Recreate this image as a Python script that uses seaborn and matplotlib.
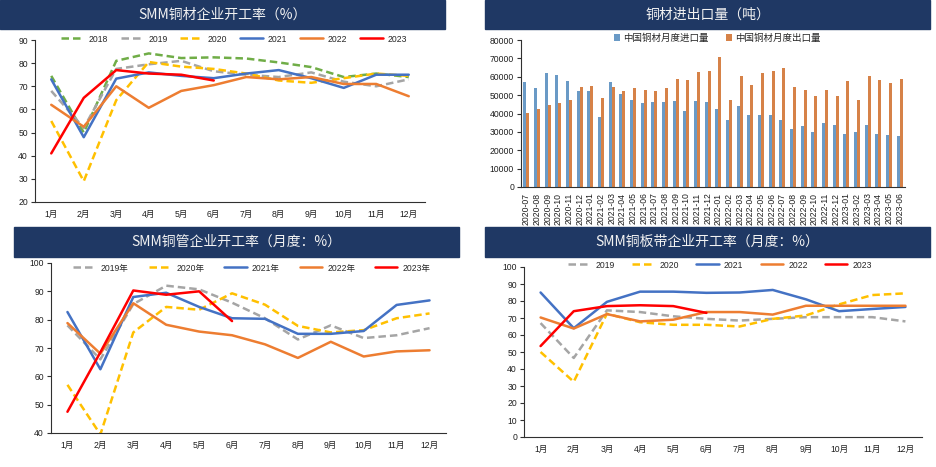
import numpy as np
import pandas as pd
import matplotlib
matplotlib.use('Agg')
import matplotlib.pyplot as plt
from matplotlib.patches import Rectangle
import seaborn as sns

# ---------------- dane ----------------
months = ['1月', '2月', '3月', '4月', '5月', '6月', '7月', '8月', '9月', '10月', '11月', '12月']

# SMM铜材企业开工率
cai_2018 = [74.5, 50, 81, 84.2, 82.2, 82.5, 82, 80.3, 78.3, 74, 75.5, 74]
cai_2019 = [68, 52, 77.5, 79.5, 81, 76.5, 75, 74, 76, 72, 70, 73]
cai_2020 = [55, 29, 64, 80.5, 78.5, 77.5, 75.5, 72.5, 71.5, 73.5, 75.5, 74.5]
cai_2021 = [73, 48, 73.3, 76, 74.5, 73.5, 75.5, 77, 73.5, 69.3, 75, 75]
cai_2022 = [62, 52.5, 70, 60.7, 68, 70.5, 74, 73, 74, 71, 71, 65.7]
cai_2023 = [41, 65, 77, 75.5, 75, 72.5]

# 铜材进出口量
trade_months = ['2020-07', '2020-08', '2020-09', '2020-10', '2020-11', '2020-12',
                '2021-01', '2021-02', '2021-03', '2021-04', '2021-05', '2021-06',
                '2021-07', '2021-08', '2021-09', '2021-10', '2021-11', '2021-12',
                '2022-01', '2022-02', '2022-03', '2022-04', '2022-05', '2022-06',
                '2022-07', '2022-08', '2022-09', '2022-10', '2022-11', '2022-12',
                '2023-01', '2023-02', '2023-03', '2023-04', '2023-05', '2023-06']
imports = [57000, 53800, 62200, 61000, 57800, 52500, 52000, 38300, 57000, 50500, 47500, 45500,
           46000, 46300, 46800, 41500, 46800, 46000, 42700, 36300, 44000, 39000, 39000, 39000,
           36700, 31800, 33000, 29800, 34600, 33900, 28700, 29800, 33900, 29000, 28200, 27500]
exports = [40200, 42700, 44800, 45500, 47200, 54200, 55000, 48500, 54500, 52500, 53700, 53000,
           52000, 54000, 58700, 58200, 62700, 63000, 71000, 47600, 60500, 55500, 61800, 63000,
           64800, 54600, 53000, 49700, 53000, 49300, 57800, 47300, 60200, 58300, 56600, 59000]

# SMM铜管企业开工率
guan_2019 = [78, 66, 85.5, 92, 90.7, 86, 80.5, 73, 78, 73.5, 74.5, 77]
guan_2020 = [57, 39.5, 75.5, 84.5, 83.5, 89.3, 85.3, 77.8, 75.5, 76.3, 80.5, 82.2]
guan_2021 = [82.7, 62.5, 88, 89.5, 84.5, 80.5, 80.3, 75, 75, 76, 85.2, 86.8]
guan_2022 = [78.8, 68, 85.8, 78.2, 75.8, 74.5, 71.3, 66.5, 72.2, 67, 68.8, 69.2]
guan_2023 = [47.5, 68.5, 90.3, 88.8, 90, 79.5]

# SMM铜板带企业开工率
ban_2019 = [67, 46.5, 74.5, 73.5, 71, 69.5, 68.5, 69.5, 70.5, 70.5, 70.5, 68]
ban_2020 = [50, 32.5, 72.5, 67.5, 66, 66, 65, 69.5, 71.5, 78, 83.5, 84.5]
ban_2021 = [85, 64, 79.5, 85.5, 85.5, 84.8, 85, 86.5, 81, 74, 75.3, 76.5]
ban_2022 = [70.3, 63.8, 72.3, 68, 69, 73.5, 73.5, 72, 77.2, 77.2, 77.2, 77.2]
ban_2023 = [53.5, 74, 77, 77.5, 77, 73]

# ---------------- styl ----------------
sns.set_style('white')
plt.rcParams['font.family'] = ['Liberation Sans', 'Noto Sans CJK SC']
plt.rcParams['axes.unicode_minus'] = False

NAVY = '#1F3864'
GREEN, GRAY, YELLOW = '#70AD47', '#A5A5A5', '#FFC000'
BLUE, ORANGE, RED = '#4472C4', '#ED7D31', '#FF0000'
DASH = (0, (3, 1.6))
TXT = '#1f1f1f'

W, H = 937, 467
fig = plt.figure(figsize=(W / 100, H / 100), dpi=100)


def box(l, t, r, b):
    return [l / W, 1 - b / H, (r - l) / W, (b - t) / H]


def band(l, t, r, b, text):
    fig.add_artist(Rectangle((l / W, 1 - b / H), (r - l) / W, (b - t) / H,
                             transform=fig.transFigure, color=NAVY, zorder=0))
    fig.text((l + r) / 2 / W, 1 - (t + b) / 2 / H, text, color='#F2F2F2', fontsize=10,
             ha='center', va='center', family=['Noto Sans CJK SC', 'DejaVu Sans'])


def style_axes(ax, n):
    sns.despine(ax=ax)
    for s in ['left', 'bottom']:
        ax.spines[s].set_color('#303030')
        ax.spines[s].set_linewidth(0.8)
    ax.set_xlim(-0.5, n - 0.5)
    ax.set_xticks(np.arange(-0.5, n, 1), minor=True)
    ax.tick_params(axis='x', which='major', length=0, labelsize=6.2, labelcolor=TXT, pad=6)
    ax.tick_params(axis='x', which='minor', length=4, width=0.8, color='#303030', direction='out')
    ax.tick_params(axis='y', length=3, width=0.8, color='#303030', direction='out',
                   labelsize=6.2, labelcolor=TXT, pad=2, left=True)
    ax.set_xlabel('')
    ax.set_ylabel('')


def line_panel(rect, series, ylim, yticks, leg_xy, colspace):
    ax = fig.add_axes(box(*rect))
    for label, vals, color, ls in series:
        sns.lineplot(x=months[:len(vals)], y=vals, color=color, linestyle=ls,
                     linewidth=1.8, label=label, sort=False, ax=ax)
    style_axes(ax, 12)
    ax.set_ylim(*ylim)
    ax.set_yticks(yticks)
    h, l = ax.get_legend_handles_labels()
    ax.legend(h, l, ncol=len(l), loc='center',
              bbox_to_anchor=(leg_xy[0] / W, 1 - leg_xy[1] / H), bbox_transform=fig.transFigure,
              frameon=False, fontsize=6.2, handlelength=2.6, handletextpad=0.6,
              columnspacing=colspace)
    return ax


# ---------- SMM铜材企业开工率 ----------
band(0, 0, 445, 29, 'SMM铜材企业开工率（%）')
line_panel((35, 40, 425, 202),
           [('2018', cai_2018, GREEN, DASH), ('2019', cai_2019, GRAY, DASH),
            ('2020', cai_2020, YELLOW, DASH), ('2021', cai_2021, BLUE, '-'),
            ('2022', cai_2022, ORANGE, '-'), ('2023', cai_2023, RED, '-')],
           (20, 90), np.arange(20, 91, 10), (234, 39), 1.5)

# ---------- 铜材进出口量 ----------
band(485, 0, 930, 29, '铜材进出口量（吨）')
ax2 = fig.add_axes(box(521, 40, 905, 187))
df_trade = pd.DataFrame({
    '月份': trade_months * 2,
    '数量': imports + exports,
    '类型': ['中国铜材月度进口量'] * len(imports) + ['中国铜材月度出口量'] * len(exports),
})
sns.barplot(data=df_trade, x='月份', y='数量', hue='类型', palette=['#5B9BD5', ORANGE],
            width=0.55, linewidth=0, ax=ax2)
style_axes(ax2, len(trade_months))
ax2.set_ylim(0, 80000)
ax2.set_yticks(np.arange(0, 80001, 10000))
ax2.tick_params(axis='x', which='major', labelrotation=90, pad=4)
h, l = ax2.get_legend_handles_labels()
ax2.legend(h, l, ncol=2, loc='center', bbox_to_anchor=(717 / W, 1 - 38 / H),
           bbox_transform=fig.transFigure, frameon=False, fontsize=6.8,
           handlelength=0.7, handleheight=0.7, handletextpad=0.3, columnspacing=1.8)

# ---------- SMM铜管企业开工率 ----------
band(14, 227, 459, 257, 'SMM铜管企业开工率（月度：%）')
line_panel((51, 263, 446, 433),
           [('2019年', guan_2019, GRAY, DASH), ('2020年', guan_2020, YELLOW, DASH),
            ('2021年', guan_2021, BLUE, '-'), ('2022年', guan_2022, ORANGE, '-'),
            ('2023年', guan_2023, RED, '-')],
           (40, 100), np.arange(40, 101, 10), (252, 268), 2.3)

# ---------- SMM铜板带企业开工率 ----------
band(485, 227, 930, 257, 'SMM铜板带企业开工率（月度：%）')
line_panel((524, 267, 922, 437),
           [('2019', ban_2019, GRAY, DASH), ('2020', ban_2020, YELLOW, DASH),
            ('2021', ban_2021, BLUE, '-'), ('2022', ban_2022, ORANGE, '-'),
            ('2023', ban_2023, RED, '-')],
           (0, 100), np.arange(0, 101, 10), (720, 265), 2.0)

fig.savefig('out.png', dpi=100, facecolor='white')
